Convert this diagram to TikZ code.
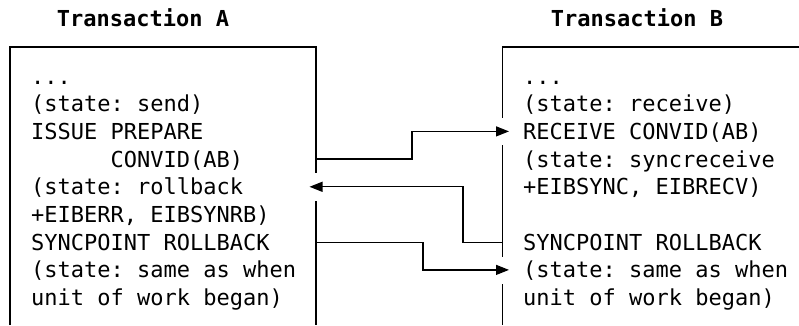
\documentclass[tikz,border=0pt]{standalone}
\usepackage{fontspec}
\usetikzlibrary{arrows.meta}
\newfontfamily\monobox{DejaVu Sans Mono}
\begin{document}
\begin{tikzpicture}[x=1pt,y=-1pt,
  ln/.style={anchor=base west,inner sep=0pt,font=\monobox\frenchspacing\fontsize{22}{27.7}\selectfont},
  ttl/.style={anchor=base,inner sep=0pt,font=\monobox\bfseries\fontsize{22}{27.7}\selectfont},
  edge/.style={line width=1.3pt},
  conn/.style={line width=1.3pt,-{Triangle[length=13pt,width=10pt]}}]
\useasboundingbox (0,0) rectangle (799,325);
% titles
\node[ttl] (tA) at (143,26) {Transaction A};
\node[ttl] (tB) at (637,26) {Transaction B};
% box edges
\draw[edge] (10,325) -- (10,47) -- (316,47) -- (316,173);
\draw[edge] (316,201) -- (316,325);
\draw[edge] (799,47) -- (502.5,47) -- (502.5,118);
\draw[edge] (502.5,145) -- (502.5,257);
\draw[edge] (502.5,284) -- (502.5,325);
% text A
\foreach \i/\t in {0/{...},1/{(state: send)},2/{ISSUE PREPARE},3/{\phantom{XXXXXX}CONVID(AB)},4/{(state: rollback},5/{+EIBERR, EIBSYNRB)},6/{SYNCPOINT ROLLBACK},7/{(state: same as when},8/{unit of work began)}}
  \node[ln] (A\i) at (31,{84+27.7*\i}) {\t};
% text B
\foreach \i/\t in {0/{...},1/{(state: receive)},2/{RECEIVE CONVID(AB)},3/{(state: syncreceive},4/{+EIBSYNC, EIBRECV)},6/{SYNCPOINT ROLLBACK},7/{(state: same as when},8/{unit of work began)}}
  \node[ln] (B\i) at (523,{84+27.7*\i}) {\t};
% connector end points on the box edges
\coordinate (aR3) at (316,{76+27.7*3});
\coordinate (aR4) at (309.5,{76+27.7*4});
\coordinate (aR6) at (316,{76+27.7*6});
\coordinate (bL2) at (509,{76+27.7*2});
\coordinate (bL6) at (502.5,{76+27.7*6});
\coordinate (bL7) at (509,{76+27.7*7});
% connectors
\draw[conn] (aR3) -- (412,{76+27.7*3}) -- (412,{76+27.7*2}) -- (bL2);
\draw[conn] (bL6) -- (463,{76+27.7*6}) -- (463,{76+27.7*4}) -- (aR4);
\draw[conn] (aR6) -- (423,{76+27.7*6}) -- (423,{76+27.7*7}) -- (bL7);
\end{tikzpicture}
\end{document}
